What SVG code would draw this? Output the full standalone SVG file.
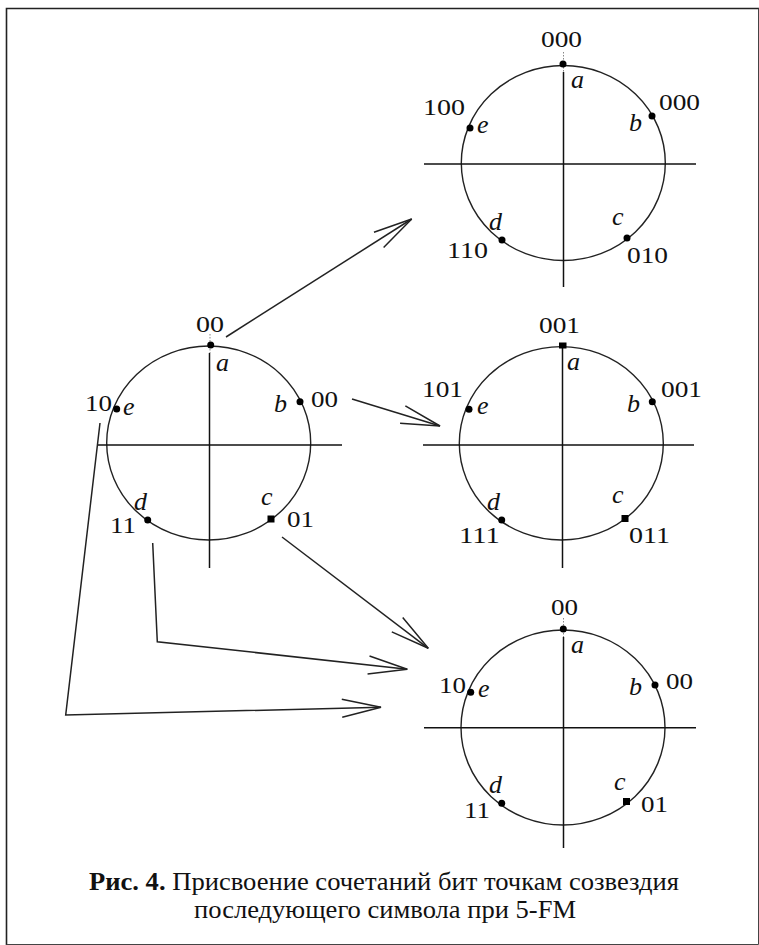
<svg xmlns="http://www.w3.org/2000/svg" width="759" height="945" viewBox="0 0 759 945">
<style>
.ring{fill:none;stroke:#222;stroke-width:1.4}
.ax{stroke:#111;stroke-width:1.5;fill:none}
.dot{stroke:#888;stroke-width:1;stroke-dasharray:1.5 1.5;fill:none}
.pt{fill:#000}
.num{font-family:"Liberation Serif","Times New Roman",serif;font-size:24px;fill:#111}
.lt{font-family:"Liberation Serif","Times New Roman",serif;font-size:26px;font-style:italic;fill:#111}
.con{fill:none;stroke:#222;stroke-width:1.5;marker-end:url(#ah)}
.cap{font-family:"Liberation Serif","Times New Roman",serif;font-size:25px;fill:#111}
</style>
<defs>
<marker id="ah" markerWidth="46" markerHeight="24" refX="42" refY="12" orient="auto" markerUnits="userSpaceOnUse">
<path d="M3,3 L42,12 L3,21" fill="none" stroke="#222" stroke-width="1.5"/>
</marker>
</defs>
<rect width="759" height="945" fill="#fff"/>
<path d="M6.5,945 L6.5,8.5 L759,8.5" fill="none" stroke="#222" stroke-width="1.6"/>
<path d="M758.5,8.5 L758.5,944.5 L6.5,944.5" fill="none" stroke="#444" stroke-width="1"/>

<g id="top-constellation">
<ellipse class="ring" cx="563.3" cy="163" rx="102" ry="97.5"/>
<line class="ax" x1="424" y1="164" x2="696" y2="164"/>
<line class="ax" x1="563.5" y1="72" x2="563.5" y2="287"/>
<line class="dot" x1="563.5" y1="52" x2="563.5" y2="72"/>
<circle class="pt" cx="563" cy="64" r="3.5"/>
<circle class="pt" cx="652" cy="116" r="3.5"/>
<circle class="pt" cx="470" cy="128" r="3.5"/>
<circle class="pt" cx="502" cy="240" r="3.5"/>
<circle class="pt" cx="627" cy="238" r="3.5"/>
<text class="num" x="541" y="47" textLength="41" lengthAdjust="spacingAndGlyphs">000</text>
<text class="num" x="659" y="110" textLength="41" lengthAdjust="spacingAndGlyphs">000</text>
<text class="num" x="423" y="115" textLength="42" lengthAdjust="spacingAndGlyphs">100</text>
<text class="num" x="447" y="258" textLength="41" lengthAdjust="spacingAndGlyphs">110</text>
<text class="num" x="627" y="263" textLength="41" lengthAdjust="spacingAndGlyphs">010</text>
<text class="lt" x="571" y="88">a</text>
<text class="lt" x="629" y="131">b</text>
<text class="lt" x="477" y="133">e</text>
<text class="lt" x="489" y="230">d</text>
<text class="lt" x="612" y="225">c</text>
</g>

<g id="source-constellation">
<ellipse class="ring" cx="208.7" cy="443" rx="102" ry="97"/>
<line class="ax" x1="97" y1="445" x2="342" y2="445"/>
<line class="ax" x1="209.5" y1="353" x2="209.5" y2="568"/>
<line class="dot" x1="210" y1="334" x2="210" y2="353"/>
<circle class="pt" cx="210.7" cy="345" r="3.5"/>
<circle class="pt" cx="300" cy="401.7" r="3.5"/>
<circle class="pt" cx="116.7" cy="409" r="3.5"/>
<circle class="pt" cx="147.7" cy="520" r="3.5"/>
<rect class="pt" x="267.5" y="515.5" width="7" height="7"/>
<text class="num" x="196" y="332" textLength="28" lengthAdjust="spacingAndGlyphs">00</text>
<text class="num" x="311" y="407" textLength="27" lengthAdjust="spacingAndGlyphs">00</text>
<text class="num" x="85" y="411" textLength="27" lengthAdjust="spacingAndGlyphs">10</text>
<text class="num" x="110" y="533" textLength="26" lengthAdjust="spacingAndGlyphs">11</text>
<text class="num" x="287" y="527" textLength="27" lengthAdjust="spacingAndGlyphs">01</text>
<text class="lt" x="216" y="371">a</text>
<text class="lt" x="274" y="412">b</text>
<text class="lt" x="123" y="415">e</text>
<text class="lt" x="134" y="510">d</text>
<text class="lt" x="261" y="505">c</text>
</g>

<g id="middle-constellation">
<ellipse class="ring" cx="561.3" cy="443.3" rx="102" ry="96.7"/>
<line class="ax" x1="423" y1="445" x2="694" y2="445"/>
<line class="ax" x1="562.5" y1="347" x2="562.5" y2="568"/>
<rect class="pt" x="559" y="342.5" width="7.5" height="6"/>
<circle class="pt" cx="652.3" cy="401.7" r="3.5"/>
<circle class="pt" cx="469" cy="409.3" r="3.5"/>
<circle class="pt" cx="501.7" cy="520" r="3.5"/>
<rect class="pt" x="621.5" y="515" width="7" height="7"/>
<text class="num" x="539" y="333" textLength="41" lengthAdjust="spacingAndGlyphs">001</text>
<text class="num" x="661" y="397" textLength="41" lengthAdjust="spacingAndGlyphs">001</text>
<text class="num" x="422" y="397" textLength="41" lengthAdjust="spacingAndGlyphs">101</text>
<text class="num" x="459" y="543" textLength="41" lengthAdjust="spacingAndGlyphs">111</text>
<text class="num" x="629" y="543" textLength="41" lengthAdjust="spacingAndGlyphs">011</text>
<text class="lt" x="567" y="370">a</text>
<text class="lt" x="627" y="412">b</text>
<text class="lt" x="477" y="414">e</text>
<text class="lt" x="487" y="510">d</text>
<text class="lt" x="612" y="503">c</text>
</g>

<g id="bottom-constellation">
<ellipse class="ring" cx="563" cy="727.5" rx="102" ry="97.5"/>
<line class="ax" x1="424" y1="727.7" x2="696" y2="727.7"/>
<line class="ax" x1="563.5" y1="637" x2="563.5" y2="848"/>
<line class="dot" x1="563.5" y1="618" x2="563.5" y2="637"/>
<circle class="pt" cx="563.3" cy="629" r="3.5"/>
<circle class="pt" cx="655" cy="685" r="3.5"/>
<circle class="pt" cx="470.7" cy="692.3" r="3.5"/>
<circle class="pt" cx="501.7" cy="803.3" r="3.5"/>
<rect class="pt" x="623" y="798" width="7" height="7"/>
<text class="num" x="551" y="615" textLength="27" lengthAdjust="spacingAndGlyphs">00</text>
<text class="num" x="666" y="689" textLength="27" lengthAdjust="spacingAndGlyphs">00</text>
<text class="num" x="439" y="693" textLength="27" lengthAdjust="spacingAndGlyphs">10</text>
<text class="num" x="464" y="818" textLength="26" lengthAdjust="spacingAndGlyphs">11</text>
<text class="num" x="641" y="812" textLength="27" lengthAdjust="spacingAndGlyphs">01</text>
<text class="lt" x="571" y="653">a</text>
<text class="lt" x="629" y="695">b</text>
<text class="lt" x="478" y="697">e</text>
<text class="lt" x="489" y="793">d</text>
<text class="lt" x="614" y="790">c</text>
</g>

<g id="connectors">
<path class="con" d="M226,337 L411.7,219"/>
<path class="con" d="M352,399 L440,426"/>
<path class="con" d="M282,537 L428.3,648.3"/>
<path class="con" d="M152.7,543 L157.3,641.7 L407.3,669.3"/>
<path class="con" d="M100,423 L65.7,715 L381,707.3"/>
</g>

<g id="caption">
<text class="cap" x="89" y="890" textLength="590" lengthAdjust="spacingAndGlyphs"><tspan font-weight="bold">Рис. 4.</tspan> Присвоение сочетаний бит точкам созвездия</text>
<text class="cap" x="194" y="918" textLength="382" lengthAdjust="spacingAndGlyphs">последующего символа при 5-FM</text>
</g>
</svg>
